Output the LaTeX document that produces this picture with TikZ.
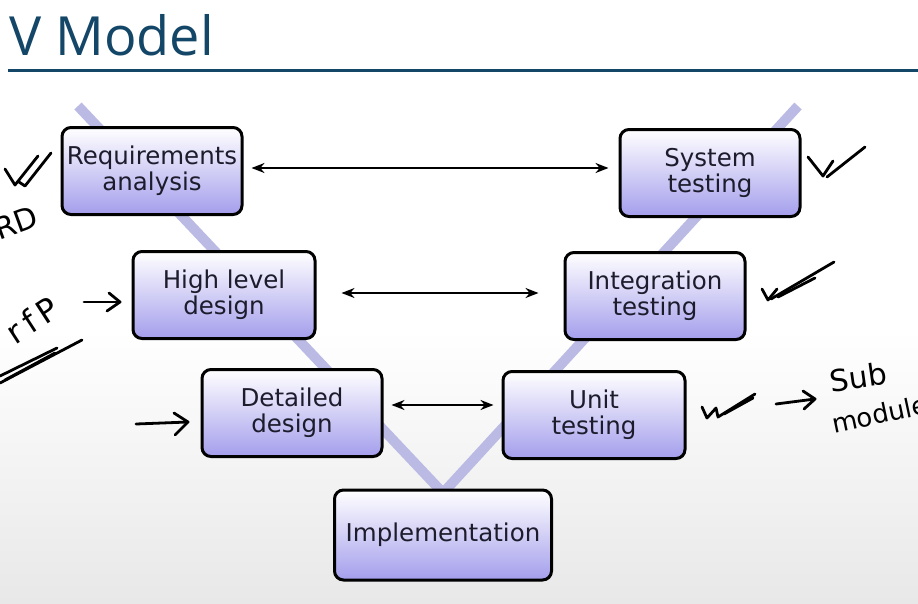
\documentclass[tikz,border=0pt]{standalone}
\usepackage{fontspec}
\setmainfont{DejaVu Sans}
\newfontfamily\titlefont{Open Sans}
\newfontfamily\handfont{DejaVu Sans}
\usetikzlibrary{arrows.meta}
\definecolor{titleblue}{RGB}{20,70,104}
\definecolor{vline}{RGB}{186,186,228}
\definecolor{boxbot}{RGB}{164,158,236}
\definecolor{boxtext}{RGB}{28,28,44}
\begin{document}
\begin{tikzpicture}[x=1pt,y=-1pt,
  stagebox/.style={draw=black, line width=3pt, rounded corners=9pt,
    top color=white, bottom color=boxbot, minimum width=180pt,
    minimum height=87pt, align=center,
    font=\fontsize{24.5}{26}\selectfont, text=boxtext, inner sep=2pt},
  biarrow/.style={{Stealth[length=13pt,width=10pt]}-{Stealth[length=13pt,width=10pt]}, line width=2pt},
  vstroke/.style={vline, line width=10pt},
  hand/.style={line width=2.8pt, line cap=round, line join=round},
  handtext/.style={font=\handfont\fontsize{30}{32}\selectfont, inner sep=0pt}
]
\useasboundingbox (0,0) rectangle (918,603);
\clip (0,0) rectangle (918,603);
% background
\fill[white] (0,0) rectangle (918,330);
\shade[top color=white, bottom color=black!9] (0,330) rectangle (918,603);

% title
\node[anchor=base west, font=\titlefont\fontsize{54}{54}\selectfont, text=titleblue, inner sep=0pt] (title) at (9,55) {V Model};
\coordinate (ruleL) at (8,70);
\coordinate (ruleR) at (918,70);
\draw[titleblue, line width=3pt] (ruleL) -- (ruleR);

% V strokes
\coordinate (vL) at (78,106);
\coordinate (vR) at (798,106);
\coordinate (vB) at (443,493);
\draw[vstroke] (vL) -- (vB) -- (vR);

% stages
\node[stagebox] (req) at (152,171) {Requirements\\analysis};
\node[stagebox] (sys) at (710,173) {System\\testing};
\node[stagebox, minimum width=182pt] (hld) at (224,295) {High level\\design};
\node[stagebox] (int) at (655,296) {Integration\\testing};
\node[stagebox] (det) at (292,413) {Detailed\\design};
\node[stagebox, minimum width=182pt] (unit) at (594,415) {Unit\\testing};
\node[stagebox, minimum width=217pt, minimum height=90pt] (impl) at (443,535) {Implementation};

% correspondences
\draw[biarrow, shorten <=8pt, shorten >=10pt] ([yshift=3pt]req.east) -- ([yshift=5pt]sys.west);
\draw[biarrow, shorten <=25pt, shorten >=25pt] ([yshift=2pt]hld.east) -- ([yshift=3pt]int.west);
\draw[biarrow, shorten <=8pt, shorten >=8pt] ([yshift=8pt]det.east) -- ([yshift=10pt]unit.west);

% handwritten annotations (left)
\draw[hand] (5,169) -- (15,185) -- (38,156);
\draw[hand] (19,182) -- (25,186) -- (51,153);
\node[handtext, rotate=20] (rd) at (16,223) {RD};
\node[handtext, rotate=33, font=\handfont\fontsize{32}{32}\selectfont] (fp) at (32,320) {r\,f\,P};
\coordinate (fpa1) at (84,302);
\coordinate (fpa2) at (120,302);
\draw[hand] (fpa1) -- (fpa2);
\draw[hand] (109,293) -- (fpa2) -- (107,311);
\draw[hand] (0,383) -- (82,340);
\draw[hand] (0,376) -- (57,348);
\draw[hand] (5,380) -- (55,353);
\coordinate (dda1) at (136,424);
\coordinate (dda2) at (188,422);
\draw[hand] (dda1) -- (dda2);
\draw[hand] (174,413) -- (dda2) -- (175,435);

% handwritten annotations (right)
\draw[hand] (808,157) -- (823,176) -- (833,161);
\draw[hand] (827,177) -- (865,147);
\draw[hand] (762,289) -- (768,300) -- (777,289);
\draw[hand] (771,299) -- (834,262);
\draw[hand] (778,297) -- (815,278);
\draw[hand] (702,407) -- (707,418) -- (716,408) -- (718,417) -- (755,394);
\draw[hand] (724,414) -- (753,398);
\coordinate (uta1) at (776,404);
\coordinate (uta2) at (815,399);
\draw[hand] (uta1) -- (uta2);
\draw[hand] (803,391) -- (uta2) -- (804,409);
\node[handtext, anchor=west, rotate=8] (sub) at (830,381) {Sub};
\node[handtext, anchor=west, rotate=12, font=\handfont\fontsize{26}{28}\selectfont] (modul) at (832,424) {modules};
\end{tikzpicture}
\end{document}
